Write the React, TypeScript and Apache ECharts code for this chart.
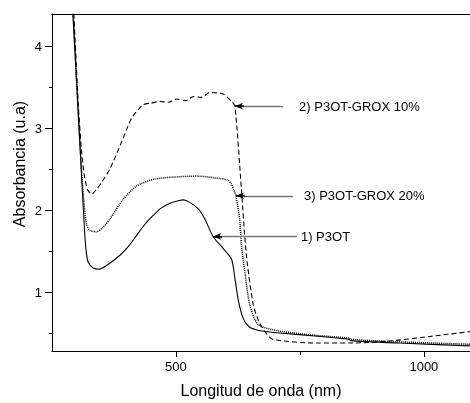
import React, { useEffect, useRef } from 'react';
import * as echarts from 'echarts';

// Wavelength (nm) and absorbance (u.a)
const p3otWavelength = [292, 302, 310, 316, 319, 323, 333, 345, 360, 387, 405, 421, 437, 454, 470, 488, 505, 515, 528, 545, 558, 575, 595, 612, 619, 626, 636, 648, 663, 690, 716, 780, 849, 852, 950, 1093];
const p3otAbsorbance = [4.40, 3.30, 2.38, 1.72, 1.50, 1.37, 1.30, 1.285, 1.33, 1.455, 1.57, 1.70, 1.83, 1.94, 2.03, 2.09, 2.12, 2.13, 2.10, 2.02, 1.90, 1.68, 1.54, 1.41, 1.17, 0.90, 0.68, 0.58, 0.545, 0.52, 0.505, 0.47, 0.43, 0.415, 0.385, 0.35];

const grox10Wavelength = [294, 303, 310, 316, 322, 330, 340, 352, 367, 390, 411, 434, 450, 468, 485, 501, 520, 535, 552, 568, 595, 612, 619, 632, 642, 656, 667, 680, 695, 784, 851, 931, 1012, 1093];
const grox10Absorbance = [4.40, 3.30, 2.70, 2.40, 2.25, 2.20, 2.26, 2.36, 2.51, 2.83, 3.13, 3.29, 3.31, 3.33, 3.32, 3.36, 3.34, 3.39, 3.38, 3.44, 3.42, 3.33, 3.27, 2.26, 1.455, 0.85, 0.65, 0.52, 0.43, 0.385, 0.385, 0.41, 0.465, 0.525];

const grox20Wavelength = [293, 302, 310, 316, 320, 326, 339, 352, 367, 394, 421, 454, 488, 542, 589, 605, 612, 616, 621, 629, 632, 639, 649, 666, 710, 780, 849, 852, 950, 1093];
const grox20Absorbance = [4.40, 3.30, 2.45, 2.00, 1.82, 1.76, 1.74, 1.79, 1.90, 2.14, 2.30, 2.38, 2.405, 2.42, 2.39, 2.37, 2.32, 2.26, 2.18, 1.86, 1.58, 1.25, 0.85, 0.61, 0.53, 0.48, 0.445, 0.43, 0.40, 0.37];

const xTickValues = [500, 1000];
const xMinorTickValues = [750];
const yTickValues = [1, 2, 3, 4];
const yMinorTickValues = [0.5, 1.5, 2.5, 3.5];

const annotationLabels = ['2) P3OT-GROX 10%', '3) P3OT-GROX 20%', '1) P3OT'];
const annotationTipX = [619, 621, 575];
const annotationEndX = [716, 736, 744];
const annotationY = [3.273, 2.18, 1.685];
const annotationGap = [16, 11, 4];

const X_MIN = 250;
const X_MAX = 1093;
const Y_MIN = 0.288;
const Y_MAX = 4.396;

const FONT = 'Liberation Sans, Arial, sans-serif';

const zip = (xs: number[], ys: number[]) => xs.map((x, i) => [x, ys[i]]);

export default function App() {
  const ref = useRef<HTMLDivElement>(null);

  useEffect(() => {
    if (!ref.current) return;
    const chart = echarts.init(ref.current, undefined, { renderer: 'svg' });

    const markLineData: any[] = [];
    annotationLabels.forEach((label, i) => {
      const y = annotationY[i];
      markLineData.push([
        {
          coord: [annotationTipX[i] + 16, y],
          symbol: 'none',
          lineStyle: { color: '#777', width: 1.3, type: 'solid' },
          label: {
            show: true,
            position: 'end',
            formatter: label,
            color: '#000',
            fontSize: 13,
            fontFamily: FONT,
            distance: annotationGap[i],
          },
        },
        { coord: [annotationEndX[i], y], symbol: 'none' },
      ]);
      markLineData.push([
        {
          coord: [annotationTipX[i], y],
          symbol: 'arrow',
          symbolSize: [5, 8],
          lineStyle: { color: '#000', width: 1.6, type: 'solid' },
          label: { show: false },
        },
        { coord: [annotationTipX[i] + 18, y], symbol: 'none' },
      ]);
    });

    const lineBase = {
      type: 'line' as const,
      showSymbol: false,
      symbol: 'none',
      smooth: 0.25,
      xAxisIndex: 0,
      yAxisIndex: 0,
      silent: true,
      clip: true,
    };

    const plainNumber = (v: number) => String(v);

    chart.setOption({
      animation: false,
      grid: { left: 52, right: 0, top: 14, bottom: 50, containLabel: false },
      xAxis: [
        {
          type: 'value',
          position: 'bottom',
          min: X_MIN,
          max: X_MAX,
          name: 'Longitud de onda (nm)',
          nameLocation: 'middle',
          nameGap: 31,
          nameTextStyle: { color: '#000', fontSize: 16, fontFamily: FONT },
          axisLine: { show: true, onZero: false, lineStyle: { color: '#000', width: 1 } },
          axisTick: { show: true, inside: false, length: 6, customValues: xTickValues, lineStyle: { color: '#000' } },
          axisLabel: { show: true, customValues: xTickValues, formatter: plainNumber, color: '#000', fontSize: 13, fontFamily: FONT, margin: 9 },
          splitLine: { show: false },
        },
        {
          type: 'value',
          position: 'bottom',
          min: X_MIN,
          max: X_MAX,
          axisLine: { show: false, onZero: false },
          axisTick: { show: true, inside: false, length: 4, customValues: xMinorTickValues, lineStyle: { color: '#000' } },
          axisLabel: { show: false },
          splitLine: { show: false },
        },
        {
          type: 'value',
          position: 'top',
          min: X_MIN,
          max: X_MAX,
          axisLine: { show: true, onZero: false, lineStyle: { color: '#000', width: 1 } },
          axisTick: { show: false },
          axisLabel: { show: false },
          splitLine: { show: false },
        },
      ],
      yAxis: [
        {
          type: 'value',
          position: 'left',
          min: Y_MIN,
          max: Y_MAX,
          axisLine: { show: true, onZero: false, lineStyle: { color: '#000', width: 1 } },
          axisTick: { show: true, inside: false, length: 7, customValues: yTickValues, lineStyle: { color: '#000' } },
          axisLabel: { show: true, customValues: yTickValues, formatter: plainNumber, color: '#000', fontSize: 13, fontFamily: FONT, margin: 10 },
          splitLine: { show: false },
        },
        {
          type: 'value',
          position: 'left',
          min: Y_MIN,
          max: Y_MAX,
          axisLine: { show: false, onZero: false },
          axisTick: { show: true, inside: false, length: 3, customValues: yMinorTickValues, lineStyle: { color: '#000' } },
          axisLabel: { show: false },
          splitLine: { show: false },
        },
      ],
      graphic: [
        {
          type: 'text',
          x: 19,
          y: 164,
          rotation: Math.PI / 2,
          style: {
            text: 'Absorbancia (u.a)',
            fontSize: 16,
            fontFamily: FONT,
            fill: '#000',
            textAlign: 'center',
            textVerticalAlign: 'middle',
          },
        },
      ],
      series: [
        {
          ...lineBase,
          name: '1) P3OT',
          data: zip(p3otWavelength, p3otAbsorbance),
          lineStyle: { color: '#000', width: 1.1, type: 'solid' },
          markLine: {
            silent: true,
            animation: false,
            data: markLineData,
          },
        },
        {
          ...lineBase,
          name: '2) P3OT-GROX 10%',
          data: zip(grox10Wavelength, grox10Absorbance),
          lineStyle: { color: '#000', width: 1.1, type: [5, 3] },
        },
        {
          ...lineBase,
          name: '3) P3OT-GROX 20%',
          data: zip(grox20Wavelength, grox20Absorbance),
          lineStyle: { color: '#000', width: 1.5, type: [1, 1] },
        },
      ],
    });

    return () => chart.dispose();
  }, []);

  return <div ref={ref} style={{ position: 'fixed', left: 0, top: 0, width: 470, height: 403 }} />;
}
